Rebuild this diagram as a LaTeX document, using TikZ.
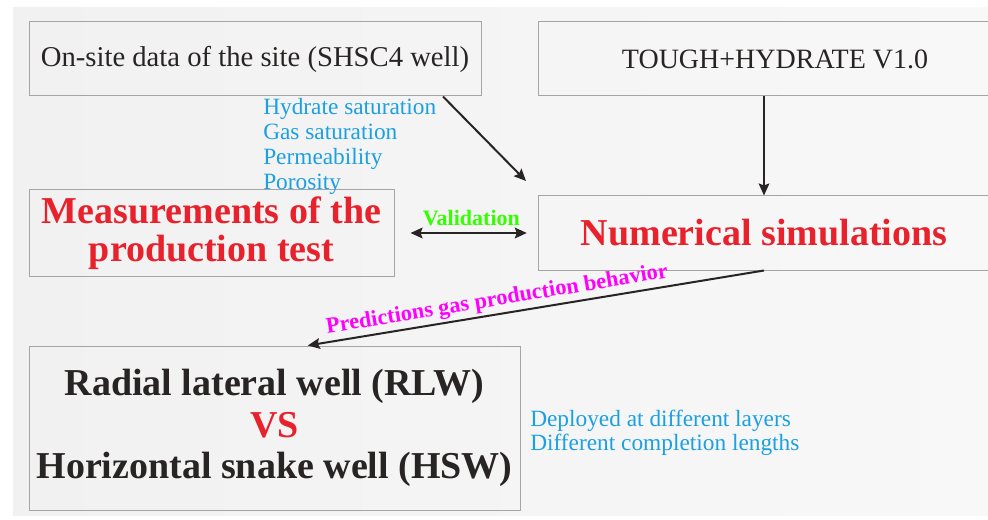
\documentclass[tikz,border=0pt]{standalone}
\usepackage{fontspec}
\setmainfont{Liberation Serif}
\usetikzlibrary{arrows.meta}

\definecolor{boxgray}{RGB}{165,165,165}
\definecolor{bgleft}{RGB}{241,241,241}
\definecolor{bgright}{RGB}{248,248,248}
\definecolor{titlered}{RGB}{232,34,44}
\definecolor{noteblue}{RGB}{27,160,226}
\definecolor{valgreen}{RGB}{51,255,0}
\definecolor{predmagenta}{RGB}{255,0,255}
\definecolor{inkdark}{RGB}{40,36,36}

\tikzset{
  stagebox/.style={draw=boxgray, line width=0.75pt, inner sep=0pt, align=center, text=inkdark},
  bigbold/.style={font=\bfseries\fontsize{28.5}{30}\selectfont},
  flow/.style={->, draw=inkdark, line width=1.5pt},
  note/.style={text=noteblue, align=left, inner sep=0pt, font=\fontsize{17.5}{18.75}\selectfont},
}

\begin{document}
\begin{tikzpicture}[x=0.75pt, y=-0.75pt, >={Stealth[length=9pt, width=8pt, inset=1.5pt]}]
\useasboundingbox (0,0) rectangle (988,520);
\shade[left color=bgleft, right color=bgright] (13,8) rectangle (988,515);

% boxes
\node[stagebox, minimum width=339pt, minimum height=55.5pt, font=\fontsize{21.5}{24}\selectfont] (site) at (255,59) {On-site data of the site (SHSC4 well)};
\node[stagebox, minimum width=355.5pt, minimum height=55.5pt, font=\fontsize{21}{24}\selectfont] (tough) at (775,59) {TOUGH+HYDRATE V1.0};
\node[stagebox, text=titlered, minimum width=273.75pt, minimum height=64.5pt, font=\bfseries\fontsize{28.5}{28.5}\selectfont] (meas) at (211.5,233) {Measurements of the\\production test};
\node[stagebox, bigbold, text=titlered, minimum width=339pt, minimum height=55.5pt] (num) at (764,233) {Numerical simulations};
\node[stagebox, bigbold, minimum width=368.25pt, minimum height=123pt, font=\bfseries\fontsize{28.5}{31}\selectfont] (cmp) at (274.5,428) {Radial lateral well (RLW)\\\textcolor{titlered}{VS}\\Horizontal snake well (HSW)};

% notes
\node[note, anchor=north west] (props) at (263,98) {Hydrate saturation\\Gas saturation\\Permeability\\Porosity};
\node[note, anchor=north west, font=\fontsize{17.5}{17.5}\selectfont] (cases) at (530,410) {Deployed at different layers\\Different completion lengths};

% arrows
\coordinate (hint) at (526,181);
\draw[flow] ([xshift=141pt]site.south) -- (hint);
\draw[flow] (num.north |- tough.south) -- (num.north);
\draw[flow, <->, shorten <=12pt, shorten >=8pt] (meas) -- node[above=1pt, xshift=4pt, text=valgreen, font=\bfseries\fontsize{16.5}{18}\selectfont] (val) {Validation} (num);
\draw[flow] (num.south) -- node[sloped, above, pos=0.58, inner sep=2pt, text=predmagenta, font=\bfseries\fontsize{16.8}{18}\selectfont] (pred) {Predictions gas production behavior} ([xshift=25pt]cmp.north);
\end{tikzpicture}
\end{document}
